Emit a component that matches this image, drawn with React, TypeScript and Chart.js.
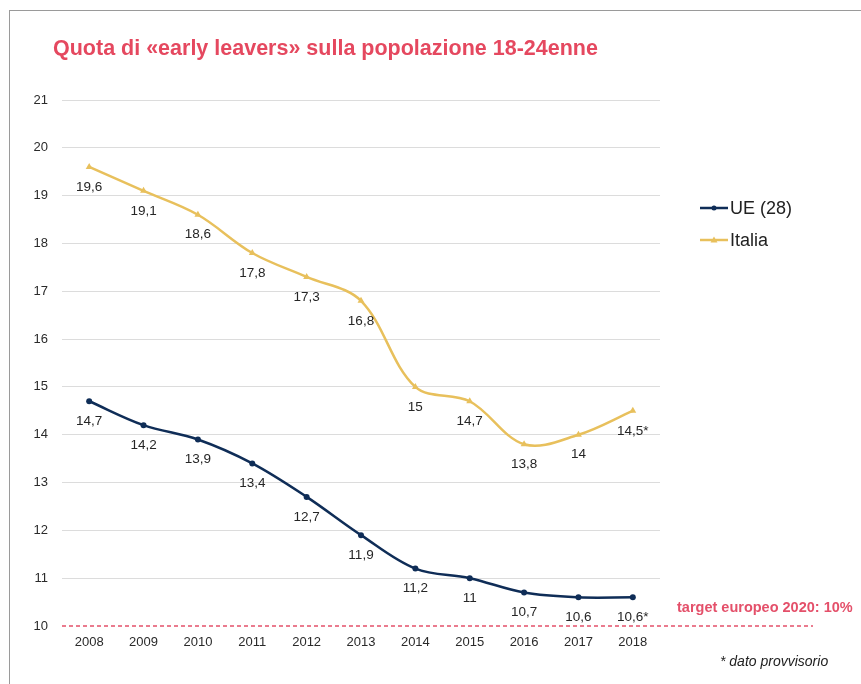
import React, { useEffect, useRef } from "react";
import { Chart, registerables } from "chart.js";

Chart.register(...registerables);

const years = ["2008", "2009", "2010", "2011", "2012", "2013", "2014", "2015", "2016", "2017", "2018"];
const ueValues = [14.7, 14.2, 13.9, 13.4, 12.7, 11.9, 11.2, 11.0, 10.7, 10.6, 10.6];
const italiaValues = [19.6, 19.1, 18.6, 17.8, 17.3, 16.8, 15.0, 14.7, 13.8, 14.0, 14.5];
const provisionalIndex = 10;
const yMin = 10;
const yMax = 21;
const targetValue = 10;

const titleText = "Quota di «early leavers» sulla popolazione 18-24enne";
const targetText = "target europeo 2020: 10%";
const footnoteText = "* dato provvisorio";
const seriesNames = ["UE (28)", "Italia"];

const FONT = '"Liberation Sans", Arial, Helvetica, sans-serif';
const UE_COLOR = "#0f2d57";
const IT_COLOR = "#e8c05c";
const RED = "#e4506a";

const fmt = (v: number, i: number) =>
  String(v).replace(".", ",") + (i === provisionalIndex ? "*" : "");

const overlayPlugin = {
  id: "overlay",
  afterDatasetsDraw(chart: any) {
    const ctx = chart.ctx;
    ctx.save();
    ctx.font = `13.5px ${FONT}`;
    ctx.fillStyle = "#262626";
    ctx.textAlign = "center";
    ctx.textBaseline = "middle";
    chart.data.datasets.forEach((ds: any, di: number) => {
      const meta = chart.getDatasetMeta(di);
      meta.data.forEach((pt: any, i: number) => {
        ctx.fillText(fmt(ds.data[i], i), pt.x, pt.y + 20);
      });
    });
    ctx.restore();
  },
  afterDraw(chart: any) {
    const ctx = chart.ctx;
    const { chartArea, scales } = chart;
    const y10 = scales.y.getPixelForValue(targetValue);
    ctx.save();
    // target dashed line
    ctx.strokeStyle = RED;
    ctx.lineWidth = 1.5;
    ctx.setLineDash([4, 3]);
    ctx.beginPath();
    ctx.moveTo(chartArea.left, y10);
    ctx.lineTo(813, y10);
    ctx.stroke();
    ctx.setLineDash([]);
    // target text
    ctx.font = `bold 14.5px ${FONT}`;
    ctx.fillStyle = RED;
    ctx.textAlign = "left";
    ctx.textBaseline = "middle";
    ctx.fillText(targetText, 677, y10 - 18);
    // title
    ctx.font = `bold 21.5px ${FONT}`;
    ctx.fillStyle = "#e5485f";
    ctx.fillText(titleText, 53, 49);
    // legend
    const colors = [UE_COLOR, IT_COLOR];
    const legendY = [208, 240];
    seriesNames.forEach((name, i) => {
      const ly = legendY[i];
      ctx.strokeStyle = colors[i];
      ctx.fillStyle = colors[i];
      ctx.lineWidth = 2.5;
      ctx.beginPath();
      ctx.moveTo(700, ly);
      ctx.lineTo(728, ly);
      ctx.stroke();
      ctx.beginPath();
      if (i === 0) {
        ctx.arc(714, ly, 2.5, 0, Math.PI * 2);
      } else {
        ctx.moveTo(714, ly - 3.5);
        ctx.lineTo(717.5, ly + 2.5);
        ctx.lineTo(710.5, ly + 2.5);
        ctx.closePath();
      }
      ctx.fill();
      ctx.font = `18px ${FONT}`;
      ctx.fillStyle = "#222222";
      ctx.fillText(name, 730, ly + 1);
    });
    // footnote
    ctx.font = `italic 14px ${FONT}`;
    ctx.fillStyle = "#222222";
    ctx.fillText(footnoteText, 720, 662);
    ctx.restore();
  },
};

export default function App() {
  const canvasRef = useRef<HTMLCanvasElement | null>(null);

  useEffect(() => {
    if (!canvasRef.current) return;
    const chart = new Chart(canvasRef.current, {
      type: "line",
      data: {
        labels: years,
        datasets: [
          {
            label: seriesNames[0],
            data: ueValues,
            borderColor: UE_COLOR,
            backgroundColor: UE_COLOR,
            borderWidth: 2.5,
            pointStyle: "circle",
            pointRadius: 3,
            pointBorderWidth: 0,
            tension: 0.35,
          },
          {
            label: seriesNames[1],
            data: italiaValues,
            borderColor: IT_COLOR,
            backgroundColor: IT_COLOR,
            borderWidth: 2.5,
            pointStyle: "triangle",
            pointRadius: 4,
            pointBorderWidth: 0,
            tension: 0.35,
          },
        ],
      },
      options: {
        animation: false,
        responsive: false,
        events: [],
        layout: { padding: { left: 0, right: 201, top: 100, bottom: 0 } },
        plugins: {
          legend: { display: false },
          title: { display: false },
          tooltip: { enabled: false },
        },
        scales: {
          x: {
            offset: true,
            grid: { display: false, drawTicks: false },
            border: { display: false },
            ticks: {
              color: "#2a2a2a",
              font: { family: FONT, size: 13 },
              padding: 9,
              maxRotation: 0,
            },
            afterFit: (s: any) => {
              s.height = 58;
            },
          },
          y: {
            min: yMin,
            max: yMax,
            grid: {
              drawTicks: false,
              color: (c: any) => (c.tick && c.tick.value === targetValue ? "rgba(0,0,0,0)" : "#dcdcdc"),
              lineWidth: 1,
            },
            border: { display: false },
            ticks: {
              stepSize: 1,
              color: "#2a2a2a",
              font: { family: FONT, size: 13 },
              padding: 14,
            },
            afterFit: (s: any) => {
              s.width = 62;
            },
          },
        },
      },
      plugins: [overlayPlugin],
    });
    return () => chart.destroy();
  }, []);

  return (
    <div style={{ position: "absolute", left: 0, top: 0, width: 861, height: 684, background: "#ffffff" }}>
      <canvas ref={canvasRef} width={861} height={684} style={{ position: "absolute", left: 0, top: 0, width: 861, height: 684 }} />
      <div
        style={{
          position: "absolute",
          left: 9,
          top: 10,
          width: 852,
          height: 674,
          borderLeft: "1.5px solid #9a9a9a",
          borderTop: "1.5px solid #9a9a9a",
          pointerEvents: "none",
        }}
      />
    </div>
  );
}
